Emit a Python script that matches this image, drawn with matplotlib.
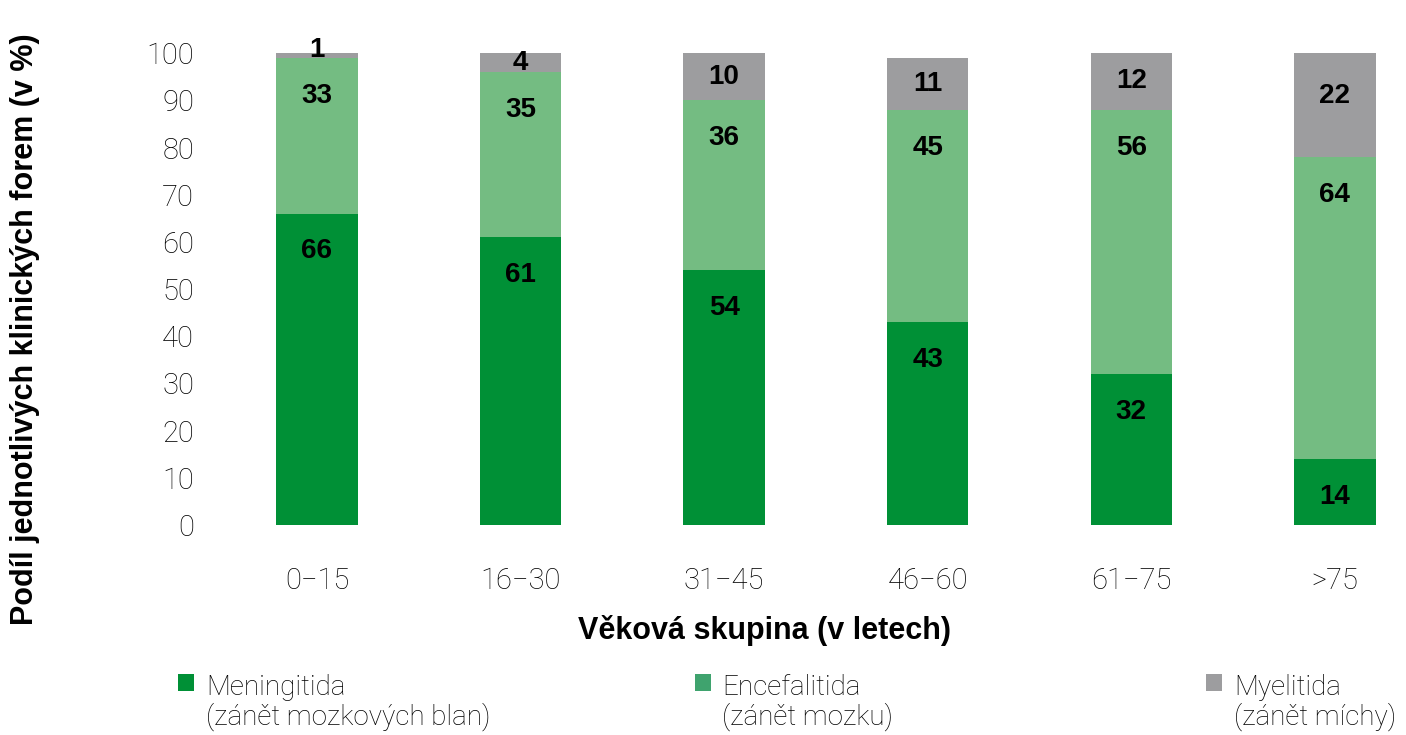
import matplotlib.pyplot as plt
from matplotlib.patches import Patch
import numpy as np

# Data
groups = ['0\u221215', '16\u221230', '31\u221245', '46\u221260', '61\u221275', '>75']
meningitida = [66, 61, 54, 43, 32, 14]
encefalitida = [33, 35, 36, 45, 56, 64]
myelitida = [1, 4, 10, 11, 12, 22]

series_names = ['Meningitida\n(zánět mozkových blan)',
                'Encefalitida\n(zánět mozku)',
                'Myelitida\n(zánět míchy)']

# Colours
c_men = '#009036'
c_enc = '#74bc82'
c_mye = '#9d9d9f'
legend_colors = [c_men, '#3fa36e', c_mye]

light = dict(family=['Roboto', 'Liberation Sans', 'DejaVu Sans'], weight='light')
bold = dict(family=['Liberation Sans', 'DejaVu Sans'], weight='bold')

fig = plt.figure(figsize=(14.06, 7.35), dpi=100)
ax = fig.add_axes([0.1458, 0.2857, 0.847, 0.642])

x = np.arange(len(groups))
w = 0.40
men = np.array(meningitida)
enc = np.array(encefalitida)
mye = np.array(myelitida)

ax.bar(x, men, width=w, color=c_men)
ax.bar(x, enc, width=w, bottom=men, color=c_enc)
ax.bar(x, mye, width=w, bottom=men + enc, color=c_mye)

# value labels
for i in range(len(x)):
    ax.text(x[i], men[i] - 8, str(men[i]), ha='center', va='center', fontsize=20, **bold)
    ax.text(x[i], men[i] + enc[i] - 8, str(enc[i]), ha='center', va='center', fontsize=20, **bold)
    top = men[i] + enc[i] + mye[i]
    ax.text(x[i], max(top - mye[i] / 2, top - 9) + (1.2 if mye[i] < 3 else 0), str(mye[i]),
            ha='center', va='center', fontsize=20, **bold)

ax.set_xlim(-0.55, 5.3)
ax.set_ylim(0, 100)
ax.set_yticks(np.arange(0, 101, 10))
ax.set_xticks(x)
ax.set_xticklabels(groups)
for lab in ax.get_xticklabels() + ax.get_yticklabels():
    lab.set_fontsize(21)
    lab.set_fontfamily(light['family'])
    lab.set_fontweight('light')
    lab.set_color('black')
ax.tick_params(axis='both', length=0)
ax.tick_params(axis='x', pad=30)
ax.tick_params(axis='y', pad=8)
for s in ax.spines.values():
    s.set_visible(False)

ax.set_ylabel('Podíl jednotlivých klinických forem (v %)', fontsize=22, **bold)
ax.yaxis.set_label_coords(-0.1385, 0.415)
ax.set_xlabel('Věková skupina (v letech)', fontsize=22, **bold)
ax.xaxis.set_label_coords(0.47, -0.19)

# legend: three separate entries spread along the bottom
legend_x = [0.1266, 0.494, 0.858]
for name, col, lx in zip(series_names, legend_colors, legend_x):
    h = Patch(facecolor=col, edgecolor='none')
    leg = fig.legend(handles=[h], labels=[name], loc='upper left',
                     bbox_to_anchor=(lx, 0.083), frameon=False,
                     handlelength=0.58, handleheight=0.58, handletextpad=0.42,
                     borderpad=0, borderaxespad=0,
                     prop=dict(family=light['family'], weight='light', size=20))
    for t in leg.get_texts():
        t.set_color('black')
        t.set_linespacing(1.05)
    # keep square next to the first line
    leg._legend_handle_box.get_children()[0].get_children()[0].align = 'top'

fig.savefig('out.png', dpi=100)
